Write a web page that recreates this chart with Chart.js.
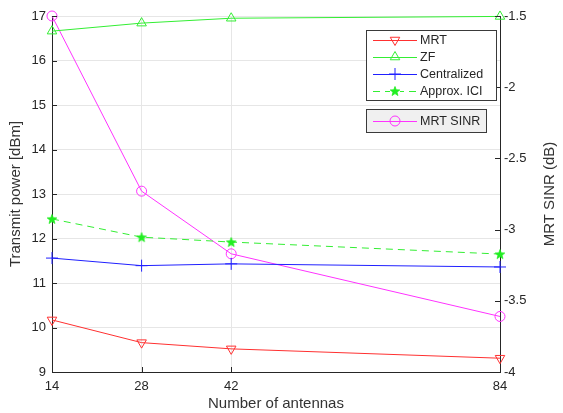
<!DOCTYPE html>
<html>
<head>
<meta charset="utf-8">
<script src="https://cdn.jsdelivr.net/npm/chart.js@4.4.1/dist/chart.umd.min.js"></script>
<style>
html,body{margin:0;padding:0;background:#fff;}
#wrap{width:563px;height:413px;position:relative;}
</style>
</head>
<body>
<div id="wrap"><canvas id="c"></canvas></div>
<script>
// ---- data ----
const antennas = [14, 28, 42, 84];
const xTicks = [14, 28, 42, 84];
const mrt = [10.17, 9.66, 9.52, 9.31];
const zf = [16.66, 16.84, 16.95, 16.99];
const centralized = [11.56, 11.39, 11.43, 11.36];
const approxICI = [12.44, 12.03, 11.92, 11.65];
const mrtSinr = [-1.5, -2.73, -3.17, -3.61];
const leftTicks = [9, 10, 11, 12, 13, 14, 15, 16, 17];
const rightTicks = [-4, -3.5, -3, -2.5, -2, -1.5];

const FONT = "'Liberation Sans', Arial, sans-serif";
const AXIS = '#262626';
const GRID = '#e6e6e6';

function pts(ys){ return antennas.map((x,i)=>({x:x, y:ys[i]})); }

// pentagram marker
function makeStar(color){
  const c = document.createElement('canvas');
  const s = 12; c.width = s; c.height = s;
  const g = c.getContext('2d');
  g.beginPath();
  for(let i=0;i<10;i++){
    const r = i%2===0 ? 5 : 2.1;
    const a = -Math.PI/2 + i*Math.PI/5;
    const px = s/2 + r*Math.cos(a), py = s/2 + 0.5 + r*Math.sin(a);
    if(i===0) g.moveTo(px,py); else g.lineTo(px,py);
  }
  g.closePath();
  g.fillStyle = color; g.fill();
  g.strokeStyle = color; g.lineWidth = 0.8; g.stroke();
  return c;
}
const starImg = makeStar('#22ee22');

const datasets = [
  {label:'MRT', data:pts(mrt), yAxisID:'y', borderColor:'#ff3030', backgroundColor:'rgba(0,0,0,0)',
   borderWidth:1, pointStyle:'triangle', rotation:180, pointRadius:5.5, pointBorderWidth:1, legendGroup:1},
  {label:'ZF', data:pts(zf), yAxisID:'y', borderColor:'#33ee33', backgroundColor:'rgba(0,0,0,0)',
   borderWidth:1, pointStyle:'triangle', rotation:0, pointRadius:5.5, pointBorderWidth:1, legendGroup:1},
  {label:'Centralized', data:pts(centralized), yAxisID:'y', borderColor:'#2020ff', backgroundColor:'rgba(0,0,0,0)',
   borderWidth:1, pointStyle:'cross', pointRadius:6, pointBorderWidth:1, legendGroup:1},
  {label:'Approx. ICI', data:pts(approxICI), yAxisID:'y', borderColor:'#33ee33', backgroundColor:'rgba(0,0,0,0)',
   borderWidth:1, borderDash:[7,5], pointStyle:starImg, pointRadius:5, pointBorderWidth:1, legendGroup:1},
  {label:'MRT SINR', data:pts(mrtSinr), yAxisID:'y1', borderColor:'#ff33ff', backgroundColor:'rgba(0,0,0,0)',
   borderWidth:1, pointStyle:'circle', pointRadius:5, pointBorderWidth:1, legendGroup:2}
];
datasets.forEach(d=>{ d.clip = false; d.tension = 0; d.pointHoverRadius = d.pointRadius; });

// custom plugin: inward ticks, right axis title, MATLAB-style two legend boxes
const extras = {
  id:'extras',
  afterDraw(chart){
    const ctx = chart.ctx;
    const ca = chart.chartArea;
    const sx = chart.scales.x, sy = chart.scales.y, sy1 = chart.scales.y1;
    ctx.save();
    ctx.strokeStyle = AXIS; ctx.lineWidth = 1;
    ctx.beginPath();
    leftTicks.forEach(v=>{ const y = Math.round(sy.getPixelForValue(v))+0.5; ctx.moveTo(ca.left, y); ctx.lineTo(ca.left+5, y); });
    rightTicks.forEach(v=>{ const y = Math.round(sy1.getPixelForValue(v))+0.5; ctx.moveTo(ca.right, y); ctx.lineTo(ca.right-5, y); });
    xTicks.forEach(v=>{ const x = Math.round(sx.getPixelForValue(v))+0.5; ctx.moveTo(x, ca.bottom); ctx.lineTo(x, ca.bottom-5); });
    ctx.stroke();

    // right axis title (bottom-to-top)
    ctx.fillStyle = '#333';
    ctx.font = '15px ' + FONT;
    ctx.textAlign = 'center'; ctx.textBaseline = 'middle';
    ctx.translate(550, (ca.top+ca.bottom)/2);
    ctx.rotate(-Math.PI/2);
    ctx.fillText('MRT SINR (dB)', 0, 0);
    ctx.restore();

    // legend boxes
    function box(x,y,w,h,fill){
      ctx.save();
      ctx.fillStyle = fill; ctx.fillRect(x,y,w,h);
      ctx.strokeStyle = '#3a3a3a'; ctx.lineWidth = 1;
      ctx.strokeRect(x+0.5,y+0.5,w,h);
      ctx.restore();
    }
    function entry(ds, y){
      const x0 = 373, x1 = 417, xm = 395;
      ctx.save();
      ctx.strokeStyle = ds.borderColor; ctx.lineWidth = 1;
      ctx.setLineDash(ds.borderDash || []);
      ctx.beginPath(); ctx.moveTo(x0, y+0.5); ctx.lineTo(x1, y+0.5); ctx.stroke();
      ctx.setLineDash([]);
      ctx.fillStyle = ds.backgroundColor;
      ctx.strokeStyle = ds.borderColor;
      if (ds.pointStyle instanceof HTMLCanvasElement){
        ctx.fillStyle = '#fff';
        ctx.fillRect(xm-5, y-4, 10, 9);
        ctx.drawImage(ds.pointStyle, xm - ds.pointStyle.width/2, y - ds.pointStyle.height/2);
      } else {
        Chart.helpers.drawPoint(ctx, {pointStyle: ds.pointStyle, radius: ds.pointRadius, rotation: ds.rotation || 0, borderWidth: 1}, xm, y);
      }
      ctx.fillStyle = '#262626';
      ctx.font = '12.5px ' + FONT;
      ctx.textAlign = 'left'; ctx.textBaseline = 'middle';
      ctx.fillText(ds.label, 420, y+1);
      ctx.restore();
    }
    box(366, 30, 130, 70, '#ffffff');
    const g1 = chart.data.datasets.filter(d=>d.legendGroup===1);
    g1.forEach((d,i)=> entry(d, 40 + i*17));
    box(366, 109, 120, 23, '#f0f0f0');
    const g2 = chart.data.datasets.filter(d=>d.legendGroup===2);
    g2.forEach((d,i)=> entry(d, 121));
  }
};

new Chart(document.getElementById('c'), {
  type:'line',
  data:{ datasets: datasets },
  options:{
    responsive:true, maintainAspectRatio:false, animation:false,
    layout:{ padding:{ top:16, left:0, right:0, bottom:0 } },
    plugins:{ legend:{display:false}, tooltip:{enabled:false} },
    scales:{
      x:{
        type:'linear', min:14, max:84,
        afterBuildTicks(s){ s.ticks = xTicks.map(v=>({value:v})); },
        afterFit(s){ s.height = 41; },
        grid:{ color:GRID, drawTicks:false, lineWidth:1 },
        border:{ color:AXIS, width:1 },
        ticks:{ color:'#262626', font:{family:FONT, size:13}, padding:7, maxRotation:0, autoSkip:false },
        title:{ display:true, text:'Number of antennas', color:'#333', font:{family:FONT, size:15}, padding:{top:0,bottom:0} }
      },
      y:{
        type:'linear', position:'left', min:9, max:17,
        afterBuildTicks(s){ s.ticks = leftTicks.map(v=>({value:v})); },
        afterFit(s){ s.width = 52; },
        grid:{ color:GRID, drawTicks:false, lineWidth:1 },
        border:{ color:AXIS, width:1 },
        ticks:{ color:'#262626', font:{family:FONT, size:13}, padding:6 },
        title:{ display:true, text:'Transmit power [dBm]', color:'#333', font:{family:FONT, size:15}, padding:{top:7,bottom:0} }
      },
      y1:{
        type:'linear', position:'right', min:-4, max:-1.5,
        afterBuildTicks(s){ s.ticks = rightTicks.map(v=>({value:v})); },
        afterFit(s){ s.width = 63; },
        grid:{ display:false, drawTicks:false },
        border:{ color:AXIS, width:1 },
        ticks:{ color:'#262626', font:{family:FONT, size:13}, padding:4, callback:(v)=>String(v) }
      }
    }
  },
  plugins:[extras]
});
</script>
</body>
</html>
